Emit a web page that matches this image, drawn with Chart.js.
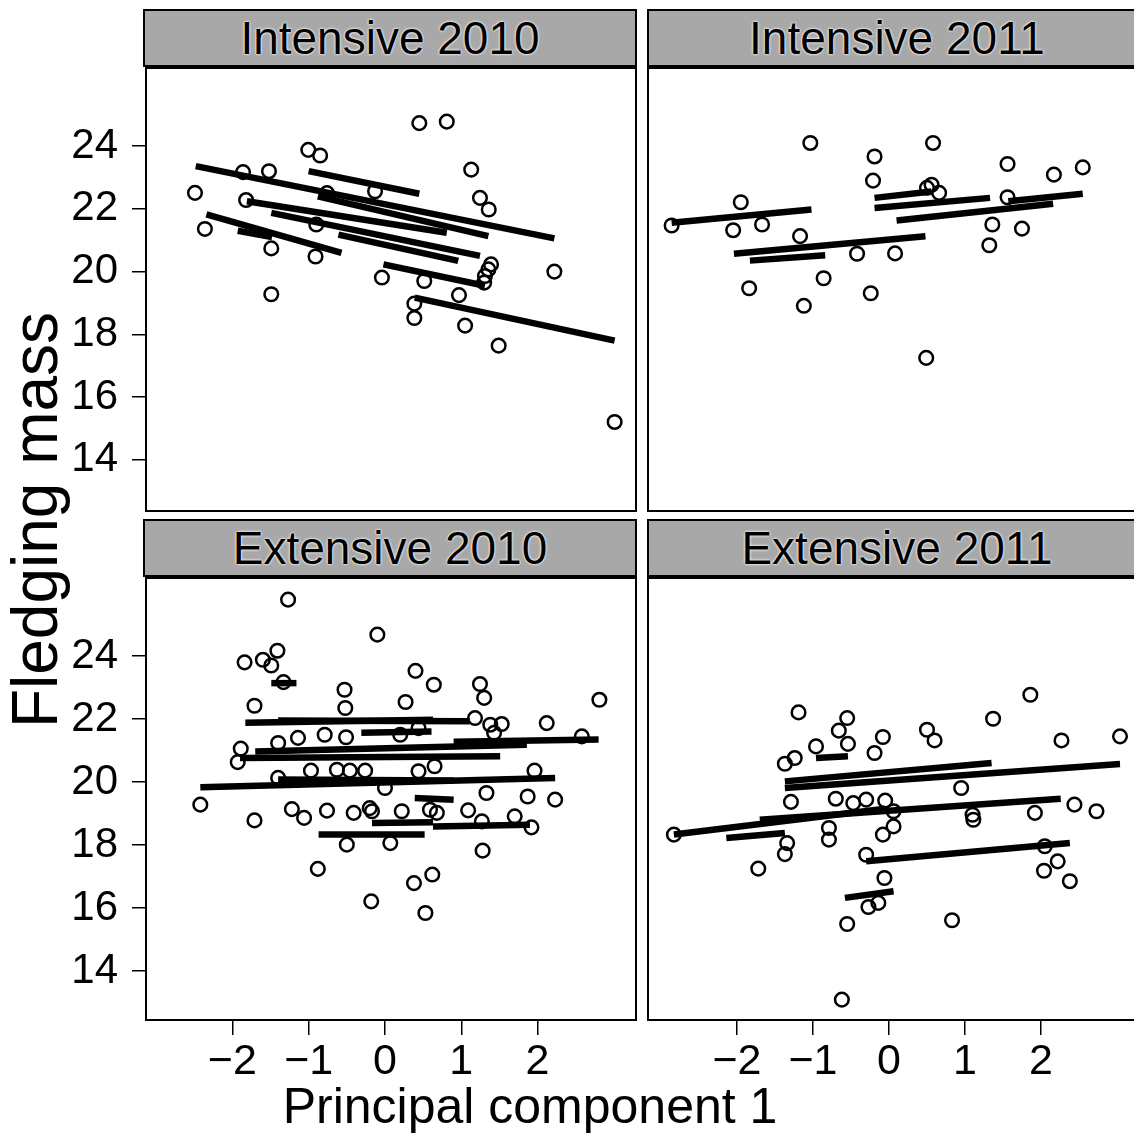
<!DOCTYPE html>
<html lang="en">
<head>
<meta charset="UTF-8">
<title>Fledging mass by principal component 1</title>
<script src="https://cdn.jsdelivr.net/npm/chart.js"></script>
<style>
  body { margin: 0; background: #fff; font-family: 'Liberation Sans', Arial, Helvetica, sans-serif; }
  #fig { position: relative; width: 1134px; height: 1146px; overflow: hidden; }
  #fig canvas { position: absolute; }
  .strip {
    position: absolute; height: 58px; box-sizing: border-box;
    border: 2px solid #000; background: #a8a8a8;
    text-align: center; font-size: 46px; line-height: 54px; color: #000;
    text-shadow: 0 0 2px #fff, 0 0 3px #fff;
  }
  .ytitle {
    position: absolute; left: -215px; top: 488px; width: 500px; height: 64px;
    font-size: 64px; line-height: 64px; text-align: center;
    transform: rotate(-90deg);
  }
  .xtitle {
    position: absolute; left: 230px; top: 1081px; width: 600px;
    font-size: 50px; line-height: 1; text-align: center;
  }
</style>
</head>
<body>
<div id="fig">
  <div class="strip" style="left:143px; top:9px; width:494px;">Intensive 2010</div>
  <div class="strip" style="left:647px; top:9px; width:500px;">Intensive 2011</div>
  <div class="strip" style="left:143px; top:519px; width:494px;">Extensive 2010</div>
  <div class="strip" style="left:647px; top:519px; width:500px;">Extensive 2011</div>

  <canvas id="int2010" width="637" height="445" style="left:0; top:67px;"></canvas>
  <canvas id="int2011" width="493" height="445" style="left:647px; top:67px;"></canvas>
  <canvas id="ext2010" width="637" height="524" style="left:0; top:577px;"></canvas>
  <canvas id="ext2011" width="493" height="524" style="left:647px; top:577px;"></canvas>

  <div class="ytitle">Fledging mass</div>
  <div class="xtitle">Principal component 1</div>
</div>

<script>
  // tick labels
  const yTicks = [14, 16, 18, 20, 22, 24];
  const xTicks = [-2, -1, 0, 1, 2];

  // Intensive 2010: observations
  const int2010X = [-1.005, -0.85, -1.86, -1.52, -2.49, -1.82, -2.36, -1.49, -0.91, -1.49, -0.13, -0.76, -0.90, -0.04,
                    0.45, 0.81, 1.13, 1.245, 1.36, 1.39, 1.355, 1.31, 1.30, 2.22, 0.515, 0.97, 0.385, 0.385, 1.05, 1.49, 3.01];
  const int2010Y = [23.88, 23.70, 23.17, 23.20, 22.51, 22.28, 21.36, 20.74, 20.48, 19.28, 22.56, 22.50, 21.50, 19.81,
                    24.73, 24.78, 23.25, 22.35, 21.98, 20.23, 20.07, 19.86, 19.65, 20.00, 19.70, 19.25, 18.98, 18.52, 18.28, 17.64, 15.21];
  // fitted lines per nest: [x1, y1, x2, y2]
  const int2010Fits = [
    [-2.48, 23.36, 2.22, 21.06], [-1.00, 23.20, 0.45, 22.48], [-0.88, 22.40, 1.355, 21.13],
    [-1.81, 22.24, 0.81, 21.24], [-1.49, 21.87, 1.245, 20.50], [-0.61, 21.18, 0.96, 20.34],
    [-0.02, 20.23, 1.31, 19.55], [0.39, 19.17, 3.01, 17.80], [-2.34, 21.82, -0.57, 20.60],
    [-1.93, 21.30, -1.48, 21.10]
  ];

  // Intensive 2011
  const int2011X = [-1.035, -0.19, -0.21, -1.95, -2.86, -2.05, -1.67, -1.17, -0.42, 0.08, -0.86, -1.84, -1.12, -0.24,
                    0.58, 1.56, 2.17, 2.55, 0.50, 0.56, 0.66, 1.56, 1.36, 1.75, 1.32, 0.49];
  const int2011Y = [24.10, 23.67, 22.90, 22.21, 21.47, 21.32, 21.50, 21.13, 20.57, 20.58, 19.79, 19.47, 18.91, 19.31,
                    24.10, 23.43, 23.09, 23.32, 22.67, 22.77, 22.51, 22.37, 21.50, 21.37, 20.84, 17.25];
  const int2011Fits = [
    [-2.86, 21.56, -1.02, 21.98], [-2.04, 20.57, 0.48, 21.13], [-1.83, 20.35, -0.84, 20.52],
    [-0.19, 22.35, 0.56, 22.55], [-0.19, 22.03, 1.33, 22.35], [0.10, 21.63, 2.16, 22.16],
    [1.57, 22.24, 2.55, 22.48]
  ];

  // Extensive 2010
  const ext2010X = [-1.27, -0.10, -1.41, -1.84, -1.60, -1.49, -1.33, -0.53, -1.71, -0.52, -1.89, -1.93, -1.40, -1.14,
                    -0.79, -0.51, -0.97, -0.63, -0.46, -0.26, -1.40, 0.00, -2.42, -1.71, -1.22, -1.06, -0.76, -0.41,
                    -0.20, -0.17, -0.50, 0.07, -0.88, -0.18,
                    0.40, 0.64, 0.27, 1.245, 1.30, 2.81, 1.18, 1.38, 1.53, 1.43, 2.12, 2.58, 0.20, 0.44, 0.65, 0.44,
                    1.96, 1.33, 1.87, 2.23, 0.22, 0.59, 0.68, 1.09, 1.27, 1.70, 1.92, 1.28, 0.62, 0.38, 0.53];
  const ext2010Y = [25.79, 24.68, 24.17, 23.80, 23.88, 23.70, 23.17, 22.93, 22.42, 22.35, 21.06, 20.63, 21.24, 21.40,
                    21.50, 21.42, 20.36, 20.39, 20.36, 20.36, 20.13, 19.81, 19.28, 18.78, 19.14, 18.86, 19.09, 19.02,
                    19.17, 19.07, 18.01, 18.06, 17.24, 16.21,
                    23.53, 23.09, 22.54, 23.11, 22.67, 22.61, 22.03, 21.82, 21.84, 21.56, 21.87, 21.45, 21.50, 21.71, 20.50, 20.34,
                    20.36, 19.65, 19.54, 19.44, 19.07, 19.12, 19.02, 19.10, 18.75, 18.91, 18.56, 17.82, 17.06, 16.79, 15.84];
  const ext2010Fits = [
    [-1.83, 21.88, 0.63, 21.98], [-1.40, 21.95, 1.11, 21.93], [-0.31, 21.56, 0.61, 21.60],
    [-1.70, 20.97, 1.86, 21.18], [0.90, 21.28, 2.80, 21.35], [-1.90, 20.76, 1.51, 20.82],
    [-2.42, 19.83, 2.23, 20.13], [-1.40, 20.08, 0.90, 20.05], [0.39, 19.49, 0.90, 19.44],
    [0.63, 18.59, 1.90, 18.64], [-0.17, 18.70, 0.63, 18.72], [-0.87, 18.33, 0.52, 18.33],
    [-1.49, 23.14, -1.16, 23.14]
  ];

  // Extensive 2011
  const ext2011X = [-1.19, -0.55, -0.66, -0.54, -0.96, -1.24, -1.37, -0.08, -0.19, -1.29, -0.70, -0.47, -0.30, -0.05,
                    -2.83, -1.34, -1.37, -1.72, -0.79, -0.79, -0.08, -0.30, -0.06, -0.27, -0.14, -0.55, -0.62,
                    1.86, 1.37, 0.50, 0.60, 2.27, 3.04, 0.95, 2.44, 2.73, 1.92, 1.11, 1.10, 0.06, 0.06,
                    2.05, 2.22, 2.04, 2.38, 0.83];
  const ext2011Y = [22.21, 22.03, 21.63, 21.21, 21.13, 20.76, 20.58, 21.43, 20.92, 19.37, 19.47, 19.33, 19.44, 19.41,
                    18.33, 18.06, 17.71, 17.25, 18.17, 18.54, 18.33, 17.69, 16.95, 16.03, 16.16, 15.49, 13.09,
                    22.77, 22.01, 21.66, 21.32, 21.32, 21.45, 19.81, 19.28, 19.07, 19.02, 18.80, 18.96, 18.59, 19.07,
                    17.96, 17.48, 17.18, 16.85, 15.61];
  const ext2011Fits = [
    [-1.37, 20.02, 1.35, 20.60], [-1.37, 19.81, 3.04, 20.57], [-1.70, 18.80, 2.26, 19.47],
    [-2.83, 18.33, -0.05, 19.15], [-2.14, 18.22, -1.37, 18.38], [-0.30, 17.48, 2.38, 18.06],
    [-0.58, 16.32, 0.06, 16.53], [-0.96, 20.76, -0.54, 20.82]
  ];

  const FONT = "'Liberation Sans', Arial, Helvetica, sans-serif";

  // draws the box around each panel
  const framePlugin = {
    id: 'frame',
    afterDraw(chart) {
      const a = chart.chartArea, ctx = chart.ctx;
      ctx.save();
      ctx.strokeStyle = '#000';
      ctx.lineWidth = 2;
      ctx.strokeRect(a.left + 1, a.top + 1, a.right - a.left - 2, a.bottom - a.top - 2);
      ctx.restore();
    }
  };

  const minus = v => (v < 0 ? '\u2212' + Math.abs(v) : String(v));

  // no label overhang padding, fixed axis band when shown
  function fixScale(s, shown, size) {
    s.paddingTop = 0; s.paddingBottom = 0; s.paddingLeft = 0; s.paddingRight = 0;
    if (!shown) return;
    if (s.isHorizontal()) s.height = size; else s.width = size;
  }

  function makePanel(id, xs, ys, fits, opt) {
    const lines = fits.map(f => ({
      data: [{ x: f[0], y: f[1] }, { x: f[2], y: f[3] }],
      showLine: true,
      borderColor: '#000',
      borderWidth: 6.5,
      borderCapStyle: 'butt',
      pointRadius: 0
    }));
    const pts = {
      data: xs.map((x, i) => ({ x: x, y: ys[i] })),
      pointStyle: 'circle',
      pointRadius: 6.8,
      pointBorderWidth: 2.5,
      pointBorderColor: '#000',
      pointBackgroundColor: 'rgba(0,0,0,0)',
      showLine: false
    };
    new Chart(document.getElementById(id), {
      type: 'scatter',
      data: { datasets: lines.concat([pts]) },
      options: {
        responsive: false,
        maintainAspectRatio: false,
        animation: false,
        events: [],
        layout: { padding: 0, autoPadding: false },
        plugins: { legend: { display: false }, tooltip: { enabled: false } },
        scales: {
          x: {
            type: 'linear',
            min: opt.xMin, max: opt.xMax,
            display: opt.showX,
            afterBuildTicks: s => { s.ticks = xTicks.map(v => ({ value: v })); },
            afterFit: s => fixScale(s, opt.showX, 80),
            grid: { drawOnChartArea: false, drawTicks: true, tickLength: 14, color: '#000', lineWidth: 1.5 },
            border: { display: false },
            ticks: { color: '#000', font: { size: 43, family: FONT }, padding: 1, maxRotation: 0, callback: minus }
          },
          y: {
            type: 'linear',
            min: opt.yMin, max: opt.yMax,
            display: opt.showY,
            afterBuildTicks: s => { s.ticks = yTicks.map(v => ({ value: v })); },
            afterFit: s => fixScale(s, opt.showY, 145),
            grid: { drawOnChartArea: false, drawTicks: true, tickLength: 13, color: '#000', lineWidth: 1.5 },
            border: { display: false },
            ticks: { color: '#000', font: { size: 42, family: FONT }, padding: 14 }
          }
        }
      },
      plugins: [framePlugin]
    });
  }

  makePanel('int2010', int2010X, int2010Y, int2010Fits,
    { xMin: -3.145, xMax: 3.303, yMin: 12.34, yMax: 26.52, showX: false, showY: true });
  makePanel('int2011', int2011X, int2011Y, int2011Fits,
    { xMin: -3.184, xMax: 3.303, yMin: 12.34, yMax: 26.52, showX: false, showY: false });
  makePanel('ext2010', ext2010X, ext2010Y, ext2010Fits,
    { xMin: -3.145, xMax: 3.303, yMin: 12.41, yMax: 26.51, showX: true, showY: true });
  makePanel('ext2011', ext2011X, ext2011Y, ext2011Fits,
    { xMin: -3.184, xMax: 3.303, yMin: 12.41, yMax: 26.51, showX: true, showY: false });
</script>
</body>
</html>
